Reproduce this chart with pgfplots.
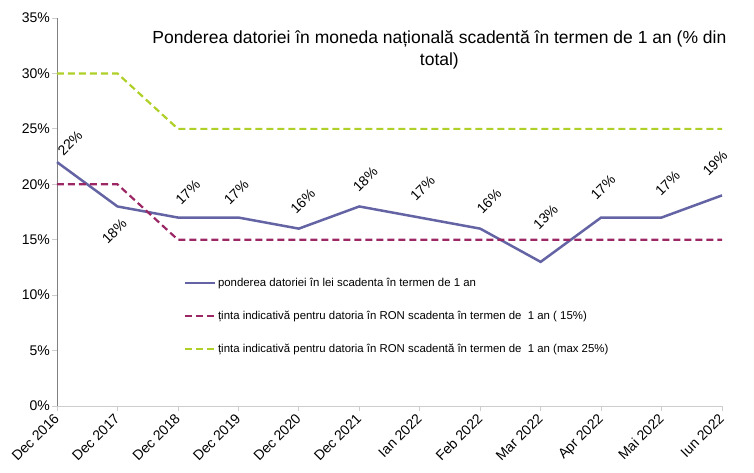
\documentclass[border=0pt]{standalone}
\usepackage{pgfplots}
\pgfplotsset{compat=1.18}
\usepackage{fontspec}
\setmainfont{Liberation Sans}
\definecolor{slate}{RGB}{100,100,165}
\definecolor{maroon}{RGB}{155,40,100}
\definecolor{lime}{RGB}{175,208,40}
\definecolor{axgray}{RGB}{128,128,128}
\definecolor{tickgray}{RGB}{205,205,205}
\begin{document}
\begin{tikzpicture}
\path[use as bounding box] (-57pt,-66pt) rectangle (697pt,406pt);
\begin{axis}[
  scale only axis,
  width=665pt, height=388pt,
  xmin=0, xmax=11, ymin=0, ymax=35,
  axis x line*=bottom, axis y line*=left,
  x axis line style={draw=tickgray, line width=0.8pt},
  y axis line style={draw=axgray, line width=0.8pt},
  xtick={0,...,11},
  xticklabels={Dec 2016,Dec 2017,Dec 2018,Dec 2019,Dec 2020,Dec 2021,Ian 2022,Feb 2022,Mar 2022,Apr 2022,Mai 2022,Iun 2022},
  ytick={0,5,...,35},
  yticklabel={\pgfmathprintnumber{\tick}\%},
  /pgf/number format/assume math mode=true,
  tick align=outside,
  major tick length=5pt,
  every tick/.style={draw=tickgray, line width=0.8pt},
  tick label style={font=\fontsize{14}{16}\selectfont, black},
  xticklabel style={xshift=-4pt, rotate=45, anchor=north east, inner sep=1pt},
  yticklabel style={inner sep=2pt},
  clip=false,
  title={Ponderea datoriei în moneda națională scadentă în termen de 1 an (\% din\\total)},
  title style={at={(0.575,0.96)}, anchor=north, align=center, font=\fontsize{17.5}{22}\selectfont},
  legend cell align=left,
  legend style={at={(0.19,0.335)}, anchor=north west, draw=none, fill=none,
    font=\fontsize{11.4}{13}\selectfont, row sep=19pt, inner sep=0pt},
  legend image code/.code={\draw[#1] (0pt,0pt) -- (30pt,0pt);},
]
\addplot[slate, line width=2.5pt, mark=none,
  visualization depends on={\thisrow{dx} \as \dx},
  visualization depends on={\thisrow{dy} \as \dy},
  nodes near coords={\pgfmathprintnumber{\pgfplotspointmeta}\%},
  every node near coord/.style={anchor=center, black, xshift=\dx pt, yshift=\dy pt, rotate=45,
     font=\fontsize{14}{16}\selectfont, inner sep=0pt},
  point meta=y]
  table[x=x, y=y] {
x y dx dy
0 22 13 19
1 18 -3 -25
2 17 10 25
3 17 -2 25
4 16 4 27
5 18 6 27
6 17 3 29
7 16 9 27
8 13 5 45
9 17 2 30
10 17 6 34
11 19 -7 32
};
\addlegendentry{ponderea datoriei în lei scadenta în termen de 1 an}
\addplot[maroon, line width=2.2pt, dash pattern=on 7pt off 4pt, mark=none]
  coordinates {(0,20) (1,20) (2,15) (3,15) (4,15) (5,15) (6,15) (7,15) (8,15) (9,15) (10,15) (11,15)};
\addlegendentry{ținta indicativă pentru datoria în RON scadenta în termen de \ 1 an ( 15\%)}
\addplot[lime, line width=2.2pt, dash pattern=on 7pt off 4pt, mark=none]
  coordinates {(0,30) (1,30) (2,25) (3,25) (4,25) (5,25) (6,25) (7,25) (8,25) (9,25) (10,25) (11,25)};
\addlegendentry{ținta indicativă pentru datoria în RON scadentă în termen de \ 1 an (max 25\%)}
\end{axis}
\end{tikzpicture}
\end{document}
